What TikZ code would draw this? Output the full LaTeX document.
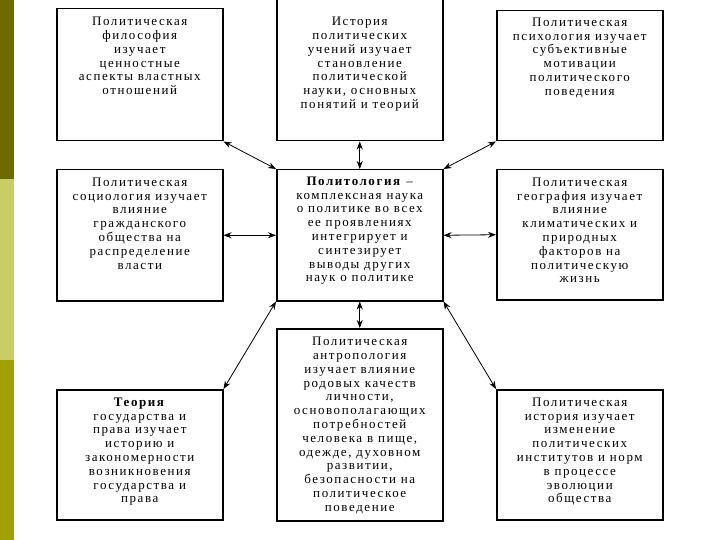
\documentclass[tikz,border=0pt]{standalone}
\usepackage{fontspec}
\setmainfont{Liberation Serif}[LetterSpace=12]
\usetikzlibrary{arrows.meta}
\definecolor{barA}{RGB}{107,107,0}
\definecolor{barB}{RGB}{204,204,102}
\definecolor{barC}{RGB}{160,160,0}
\newcommand{\mybox}[4]{\parbox[c][#2pt][t]{#1pt}{\centering\fontsize{13pt}{13.8pt}\selectfont\vspace*{#3pt}#4\par}}
\tikzset{
  sbox/.style={draw=black, line width=1.5pt, inner sep=0pt, anchor=north west, fill=white},
  conn/.style={{Stealth[length=8pt,width=6pt]}-{Stealth[length=8pt,width=6pt]}, line width=0.8pt, black}
}
\begin{document}
\begin{tikzpicture}[x=1pt,y=-1pt]
\useasboundingbox (0,0) rectangle (720,540);
\fill[white] (0,0) rectangle (720,540);
% side bar
\fill[barA] (0,0) rectangle (14,179);
\fill[barB] (0,179) rectangle (14,360);
\fill[barC] (0,360) rectangle (14,540);
% boxes
\node[sbox] (tl) at (56,8) {\mybox{166}{132}{8.5}{Политическая\\философия\\изучает\\ценностные\\аспекты властных\\отношений}};
\node[sbox] (tc) at (276,-6) {\mybox{166}{146}{22.5}{История\\политических\\учений изучает\\становление\\политической\\науки, основных\\понятий и теорий}};
\node[sbox] (tr) at (496,10) {\mybox{166}{130}{7}{Политическая\\психология изучает\\субъективные\\мотивации\\политического\\поведения}};
\node[sbox] (ml) at (56,169) {\mybox{166}{131}{8}{Политическая\\социология изучает\\влияние\\гражданского\\общества на\\распределение\\власти}};
\node[sbox] (c) at (276,169) {\mybox{166}{131}{7}{\textbf{Политология} –\\комплексная наука\\о политике во всех\\ее проявлениях\\интегрирует и\\синтезирует\\выводы других\\наук о политике}};
\node[sbox] (mr) at (496,169) {\mybox{166}{130}{8}{Политическая\\география изучает\\влияние\\климатических и\\природных\\факторов на\\политическую\\жизнь}};
\node[sbox] (bl) at (56,389) {\mybox{166}{130}{8}{\textbf{Теория}\\государства и\\права изучает\\историю и\\закономерности\\возникновения\\государства и\\права}};
\node[sbox] (bc) at (276,328) {\mybox{166}{192}{8.5}{Политическая\\антропология\\изучает влияние\\родовых качеств\\личности,\\основополагающих\\потребностей\\человека в пище,\\одежде, духовном\\развитии,\\безопасности на\\политическое\\поведение}};
\node[sbox] (br) at (496,389) {\mybox{166}{130}{8}{Политическая\\история изучает\\изменение\\политических\\институтов и норм\\в процессе\\эволюции\\общества}};
% connectors
\draw[conn] (tl.south east) -- (c.north west);
\draw[conn] (tc.south) -- (c.north);
\draw[conn] (tr.south west) -- (c.north east);
\draw[conn] (ml.east) -- (c.west);
\draw[conn] (mr.west) -- (c.east);
\draw[conn] (c.south west) -- (bl.north east);
\draw[conn] (c.south) -- (bc.north);
\draw[conn] (c.south east) -- (br.north west);
\end{tikzpicture}
\end{document}
